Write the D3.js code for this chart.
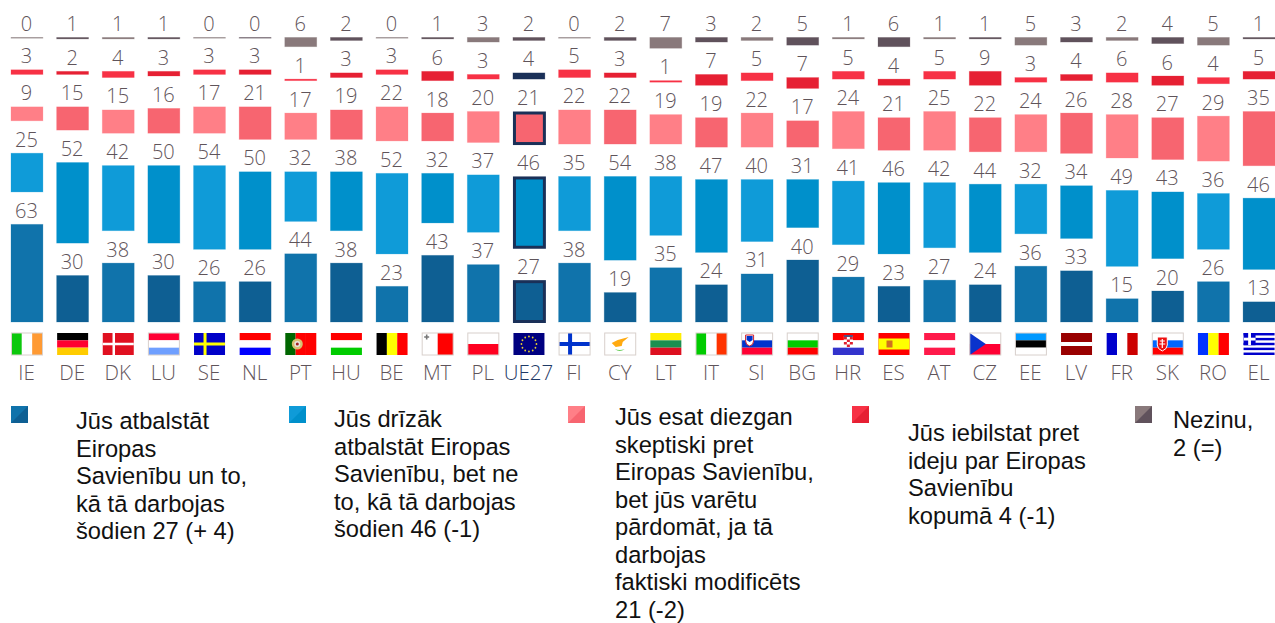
<!DOCTYPE html>
<html><head><meta charset="utf-8">
<script src="https://cdn.jsdelivr.net/npm/d3@7"></script>
<style>html,body{margin:0;padding:0;background:#fff}svg{display:block}</style>
</head><body><div id="c"></div>
<script>
const countries=["IE","DE","DK","LU","SE","NL","PT","HU","BE","MT","PL","UE27","FI","CY","LT","IT","SI","BG","HR","ES","AT","CZ","EE","LV","FR","SK","RO","EL"];
const supportAsIs=[63,30,38,30,26,26,44,38,23,43,37,27,38,19,35,24,31,40,29,23,27,24,36,33,15,20,26,13];
const supportNotAsIs=[25,52,42,50,54,50,32,38,52,32,37,46,35,54,38,47,40,31,41,46,42,44,32,34,49,43,36,46];
const sceptical=[9,15,15,16,17,21,17,19,22,18,20,21,22,22,19,19,22,17,24,21,25,22,24,26,28,27,29,35];
const opposed=[3,2,4,3,3,3,1,3,3,6,3,4,5,3,1,7,5,7,5,4,5,9,3,4,6,6,4,5];
const dontKnow=[0,1,1,1,0,0,6,2,0,1,3,2,0,2,7,3,2,5,1,6,1,1,5,3,2,4,5,1];
const seriesKeys=["supportAsIs","supportNotAsIs","sceptical","opposed","dontKnow"];
const seriesValues=[supportAsIs,supportNotAsIs,sceptical,opposed,dontKnow];
const lightColours=["#1073ab","#0f9bd8","#ff7f87","#f73145","#89797b"];
const darkColours=["#0e5f93","#0090cb","#f76570","#e62033","#60525c"];
const legendLines=[
 ["Jūs atbalstāt","Eiropas","Savienību un to,","kā tā darbojas","šodien 27 (+ 4)"],
 ["Jūs drīzāk","atbalstāt Eiropas","Savienību, bet ne","to, kā tā darbojas","šodien 46 (-1)"],
 ["Jūs esat diezgan","skeptiski pret","Eiropas Savienību,","bet jūs varētu","pārdomāt, ja tā","darbojas","faktiski modificēts","21 (-2)"],
 ["Jūs iebilstat pret","ideju par Eiropas","Savienību","kopumā 4 (-1)"],
 ["Nezinu,","2 (=)"]];
const legendSwatchX=[11,289,568,852,1135];
const legendTextX=[76,334,615,908,1173];
const legendTextY=[429,427,425,441,428];

const W=1275,H=623,NAVY="#1a3058",GAP=32.4,TXT="#5f545a",FONT="'Open Sans',sans-serif";
const svg=d3.select("#c").append("svg").attr("width",W).attr("height",H).attr("viewBox",`0 0 ${W} ${H}`);
const x=d3.scaleBand().domain(countries).range([11,1275]).paddingInner(0.3).paddingOuter(0).align(0);
const y=d3.scaleLinear().domain([0,100]).range([322,167]);
const table=countries.map((c,i)=>{const o={country:c,idx:i};seriesKeys.forEach((k,s)=>o[k]=seriesValues[s][i]);return o;});
const stacked=d3.stack().keys(seriesKeys)(table);
stacked.forEach((layer,s)=>{
  const g=svg.append("g");
  layer.forEach(d=>{
    const c=d.data.country,top=y(d[1])-s*GAP,v=d[1]-d[0];
    const h=Math.max(y(d[0])-y(d[1]),0.8);
    const col=d.data.idx%2?darkColours[s]:lightColours[s];
    const isEU=c==="UE27";
    if(isEU&&s<3){
      g.append("rect").attr("x",x(c)+1.5).attr("y",top+1.5).attr("width",x.bandwidth()-2).attr("height",h-2)
       .attr("fill",col).attr("stroke",NAVY).attr("stroke-width",3);
    } else {
      g.append("rect").attr("x",x(c)).attr("y",top).attr("width",x.bandwidth()).attr("height",h)
       .attr("fill",isEU&&s===3?NAVY:col).attr("stroke",isEU&&s===3?NAVY:col).attr("stroke-opacity",.3).attr("stroke-width",.8);
    }
    g.append("text").attr("x",x(c)+x.bandwidth()/2-0.5).attr("y",top-6.5).attr("text-anchor","middle")
     .attr("font-family",FONT).attr("font-weight",300).attr("font-size",20).attr("fill",TXT).text(v);
  });
});

// flags
const flagW=31,flagH=22;
const bandsH={DE:["#000","#ff0030","#ffcc00"],LU:["#ff0033","#fff","#6f9fff"],NL:["#ff0000","#fff","#0000ff"],HU:["#ff0000","#fff","#00cc00"],
 LT:["#ffee00","#1a9050","#dd1020"],SI:["#fff","#0033cc","#ff0033"],BG:["#fff","#00cc00","#ff0000"],HR:["#ff0000","#fff","#3333cc"],
 AT:["#ff1a4a","#fff","#ff1a4a"],EE:["#0099ff","#000","#fff"],SK:["#fff","#0066ff","#ff0000"],PL:["#fff","#ff0020"],CZ:["#fff","#ff0033"]};
const bandsV={IE:["#0cc80c","#fff","#ff9a33"],BE:["#000","#ffff00","#ff0000"],IT:["#00cc00","#fff","#ff3300"],FR:["#0000cc","#fff","#cc0000"],RO:["#0033ff","#ffff00","#ff0000"],MT:["#fff","#ff0000"],PT:["#006600","#ff0000","#ff0000"]};
const crosses={DK:["#e01020","#fff",11,2.5],SE:["#0000c8","#ffff00",11,3],FI:["#fff","#0033cc",11,4]};
const bordered=new Set(["LU","MT","PL","FI","CY","IT","SI","BG","CZ","EE","SK","IE"]);
countries.forEach(c=>{
  const g=svg.append("g").attr("transform",`translate(${x(c)+0.5},333)`);
  const R=(a,b,w,h,f)=>g.append("rect").attr("x",a).attr("y",b).attr("width",w).attr("height",h).attr("fill",f);
  if(bandsH[c]) bandsH[c].forEach((f,i,a)=>R(0,i*flagH/a.length,flagW,flagH/a.length,f));
  if(bandsV[c]) bandsV[c].forEach((f,i,a)=>R(i*flagW/a.length,0,flagW/a.length,flagH,f));
  if(crosses[c]){const[b,f,cx,t]=crosses[c];R(0,0,flagW,flagH,b);R(0,11-t/2,flagW,t,f);R(cx-t/2,0,t,flagH,f);}
  if(c==="CZ") g.append("path").attr("d","M0 0L16 11L0 22Z").attr("fill","#0a33cc");
  if(c==="PT"){g.append("circle").attr("cx",12).attr("cy",11).attr("r",5.5).attr("fill","#d8c070");g.append("circle").attr("cx",12).attr("cy",11).attr("r",3).attr("fill","#e8e4e0");g.append("circle").attr("cx",12).attr("cy",11).attr("r",1.5).attr("fill","#a02020");}
  if(c==="MT") g.append("path").attr("d","M2 4H7M4.5 1.5V6.5").attr("stroke","#777").attr("stroke-width",1.6);
  if(c==="UE27"){R(0,0,flagW,flagH,"#000080");d3.range(12).forEach(i=>{const a=i*Math.PI/6;g.append("circle").attr("cx",15.5+7.5*Math.cos(a)).attr("cy",11+7.5*Math.sin(a)).attr("r",.9).attr("fill","#e8d030");});}
  if(c==="CY"){R(0,0,flagW,flagH,"#fff");g.append("path").attr("d","M7 10L13 7L24 4L18 9L17 13L11 14Z").attr("fill","#ffaa10");g.append("path").attr("d","M10 16Q15 20 20 16Q15 18 10 16Z").attr("fill","#66cc55");}
  if(c==="LV"){R(0,0,flagW,flagH,"#990000");R(0,9,flagW,4,"#fff");}
  if(c==="ES"){R(0,0,flagW,flagH,"#ff0000");R(0,5.5,flagW,11,"#ffff00");R(8,7.5,6,7,"#d07020");}
  if(c==="SI"){g.append("path").attr("d","M4 2H12V8Q12 12 8 13Q4 12 4 8Z").attr("fill","#fff").attr("stroke","#d02030");g.append("path").attr("d","M5 3H11V7L8 9L5 7Z").attr("fill","#0033cc");}
  if(c==="SK"){g.append("path").attr("d","M5 4H15V12Q15 16 10 18Q5 16 5 12Z").attr("fill","#ee1111").attr("stroke","#fff");g.append("path").attr("d","M10 6V15M7.5 8H12.5M7 11H13").attr("stroke","#fff").attr("stroke-width",1.2);}
  if(c==="HR"){R(11,3,9,11,"#fff");[0,1,2].forEach(i=>[0,1,2,3].forEach(j=>{if((i+j)%2===0)R(11+i*3,4+j*2.5,3,2.5,"#e02030");}));R(11,2,9,2,"#505080");}
  if(c==="EL"){R(0,0,flagW,flagH,"#fff");d3.range(0,9,2).forEach(i=>R(0,i*flagH/9,flagW,flagH/9,"#0000cc"));R(0,0,12,12.2,"#0000cc");R(4.6,0,2.8,12.2,"#fff");R(0,4.7,12,2.8,"#fff");}
  if(bordered.has(c)) g.append("rect").attr("x",0).attr("y",0).attr("width",flagW).attr("height",flagH).attr("fill","none").attr("stroke","#d8d0cc").attr("stroke-width",1);
  svg.append("text").attr("x",x(c)+x.bandwidth()/2-0.5).attr("y",380).attr("text-anchor","middle")
     .attr("font-family",FONT).attr("font-weight",300).attr("font-size",20.5).attr("fill",c==="UE27"?"#1f3a66":TXT).text(c);
});

// legend
legendLines.forEach((lines,i)=>{
  const sx=legendSwatchX[i],s=17,sy=406;
  svg.append("rect").attr("x",sx).attr("y",sy).attr("width",s).attr("height",s).attr("fill",lightColours[i]);
  svg.append("path").attr("d",`M${sx+s} ${sy}V${sy+s}H${sx}Z`).attr("fill",darkColours[i]);
  const t=svg.append("text").attr("font-family","'Liberation Sans',Arial,sans-serif").attr("font-size",23.7).attr("fill","#111");
  lines.forEach((l,j)=>t.append("tspan").attr("x",legendTextX[i]).attr("y",legendTextY[i]+j*27.5).text(l));
});
</script></body></html>
